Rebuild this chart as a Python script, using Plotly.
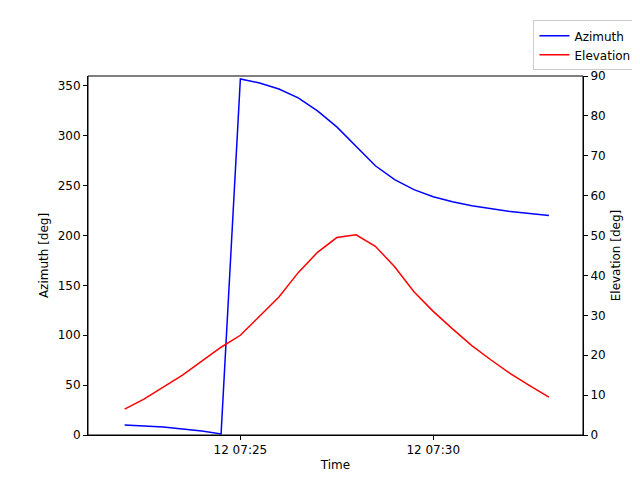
import plotly.graph_objects as go
import pandas as pd

times = pd.date_range("2024-01-12 07:22:00", periods=23, freq="30s")
azimuth = [10, 9, 8, 6, 4, 1, 357, 353, 347, 338, 325, 309, 289, 270, 256, 246, 239, 234, 230, 227, 224, 222, 220]
elevation = [6.5, 9, 12, 15, 18.5, 22, 25, 29.8, 34.6, 40.7, 45.8, 49.5, 50.2, 47.3, 42.2, 35.9, 31, 26.6, 22.4, 18.8, 15.4, 12.4, 9.5]
tick_times = ["2024-01-12 07:25:00", "2024-01-12 07:30:00"]
tick_text = ["12 07:25", "12 07:30"]

fig = go.Figure()
fig.add_trace(go.Scatter(x=times, y=azimuth, mode="lines", name="Azimuth", line=dict(color="blue", width=1.5)))
fig.add_trace(go.Scatter(x=times, y=elevation, mode="lines", name="Elevation", yaxis="y2", line=dict(color="red", width=1.5)))

axcommon = dict(showgrid=False, zeroline=False, showline=True, linecolor="black", mirror=False, automargin=False,
                ticks="outside", ticklen=4, tickcolor="black", tickfont=dict(size=12, color="black"))
fig.update_layout(
    width=640, height=480, plot_bgcolor="white", paper_bgcolor="white",
    font=dict(family="DejaVu Sans", size=12, color="black"),
    margin=dict(l=80, r=64, t=58, b=53),
    xaxis=dict(**axcommon, range=["2024-01-12 07:21:03", "2024-01-12 07:33:53"],
               tickvals=tick_times, ticktext=tick_text, title=dict(text="Time", standoff=4, font=dict(size=12))),
    yaxis=dict(**axcommon, range=[0, 360], dtick=50, title=dict(text="Azimuth [deg]", standoff=6, font=dict(size=12))),
    yaxis2=dict(**axcommon, range=[0, 90], dtick=10, overlaying="y", side="right",
                title=dict(text="Elevation [deg]", standoff=6, font=dict(size=12))),
    legend=dict(x=1.108, y=1.155, xref="paper", yref="paper", xanchor="right", yanchor="top",
                bordercolor="#ccc", borderwidth=1, bgcolor="white", font=dict(size=12)),
    shapes=[dict(type="rect", xref="paper", yref="paper", x0=0, x1=1, y0=0, y1=1,
                 line=dict(color="black", width=1))],
)
fig.write_html("out.html")
